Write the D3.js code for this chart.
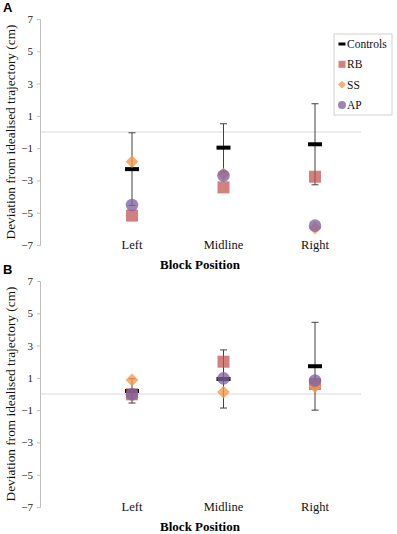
<!DOCTYPE html>
<html>
<head>
<meta charset="utf-8">
<script src="https://cdn.jsdelivr.net/npm/d3@7"></script>
<style>
  body { margin: 0; background: #fff; }
  text { font-family: "Liberation Serif", "Times New Roman", serif; }
</style>
</head>
<body>
<svg width="397" height="534"></svg>
<script>
const categories = ["Left", "Midline", "Right"]
const yTicks = [7, 5, 3, 1, -1, -3, -5, -7]

// Panel A
const controlsA = [-2.3, -0.97, -0.76]
const errA = [2.25, 1.48, 2.51]
const rbA = [-5.18, -3.43, -2.77]
const ssA = [-1.84, -2.6, -5.95]
const apA = [-4.52, -2.7, -5.8]

// Panel B
const controlsB = [0.19, 0.93, 1.72]
const errB = [0.75, 1.8, 2.72]
const rbB = [-0.02, 2.0, 0.62]
const ssB = [0.87, 0.12, 0.45]
const apB = [-0.02, 0.97, 0.83]

const seriesNames = ["Controls", "RB", "SS", "AP"]
const colors = {RB: "rgba(192,80,77,0.72)", SS: "rgba(247,150,70,0.78)", AP: "rgba(128,100,162,0.78)"}

const svg = d3.select("svg")

function drawPanel(top, bottom, label, controls, err, rb, ss, ap, legend) {
  const y = d3.scaleLinear().domain([-7, 7]).range([bottom, top])
  const x = d3.scalePoint().domain(categories).range([132, 315])
  const g = svg.append("g")

  // 0 line
  g.append("line")
    .attr("x1", 40).attr("x2", 361)
    .attr("y1", y(0)).attr("y2", y(0))
    .attr("stroke", "#d9d9d9").attr("stroke-width", 1.2)

  // y axis
  g.append("g")
    .attr("transform", "translate(40,0)")
    .call(d3.axisLeft(y).tickValues(yTicks).tickSize(3).tickPadding(4).tickFormat(d3.format("d")))
    .call(g => g.select(".domain").attr("stroke", "#bfbfbf"))
    .call(g => g.selectAll(".tick line").attr("stroke", "#bfbfbf"))
    .call(g => g.selectAll(".tick text").attr("font-size", 11).attr("fill", "#222")
      .style("font-family", "Liberation Serif"))

  // category labels
  g.selectAll(".cat").data(categories).join("text")
    .attr("x", d => x(d)).attr("y", bottom + 4)
    .attr("text-anchor", "middle").attr("font-size", 12.5).attr("fill", "#111")
    .text(d => d)

  // axis titles
  g.append("text")
    .attr("x", 200).attr("y", bottom + 24)
    .attr("text-anchor", "middle").attr("font-size", 13).attr("font-weight", "bold")
    .text("Block Position")
  g.append("text")
    .attr("transform", `translate(15,${(top + bottom) / 2}) rotate(-90)`)
    .attr("text-anchor", "middle").attr("font-size", 13.3).attr("fill", "#111")
    .text("Deviation from idealised trajectory (cm)")

  g.append("text")
    .attr("x", 3).attr("y", top - 7)
    .attr("font-size", 13).attr("font-weight", "bold")
    .style("font-family", "Liberation Sans, Arial, sans-serif")
    .text(label)

  // error bars
  const eb = g.append("g").attr("stroke", "#404040").attr("stroke-width", 1)
  categories.forEach((c, i) => {
    const lo = y(controls[i] - err[i]), hi = y(controls[i] + err[i])
    eb.append("line").attr("x1", x(c)).attr("x2", x(c)).attr("y1", lo).attr("y2", hi)
    eb.append("line").attr("x1", x(c) - 3.5).attr("x2", x(c) + 3.5).attr("y1", lo).attr("y2", lo)
    eb.append("line").attr("x1", x(c) - 3.5).attr("x2", x(c) + 3.5).attr("y1", hi).attr("y2", hi)
  })

  // controls dash
  g.selectAll(".ctl").data(controls).join("rect")
    .attr("x", (d, i) => x(categories[i]) - 7).attr("y", d => y(d) - 2)
    .attr("width", 14).attr("height", 4).attr("fill", "#000")

  g.selectAll(".rb").data(rb).join("rect")
    .attr("x", (d, i) => x(categories[i]) - 6).attr("y", d => y(d) - 6)
    .attr("width", 12).attr("height", 12).attr("fill", colors.RB)

  g.selectAll(".ss").data(ss).join("path")
    .attr("transform", (d, i) => `translate(${x(categories[i])},${y(d)}) rotate(45)`)
    .attr("d", "M-4.5,-4.5H4.5V4.5H-4.5Z").attr("fill", colors.SS)

  g.selectAll(".ap").data(ap).join("circle")
    .attr("cx", (d, i) => x(categories[i])).attr("cy", d => y(d))
    .attr("r", 6.3).attr("fill", colors.AP)

  if (legend) {
    const lg = g.append("g").attr("transform", "translate(334,34)")
    lg.append("rect").attr("width", 58).attr("height", 81)
      .attr("fill", "#fff").attr("stroke", "#d0d0d0")
    seriesNames.forEach((s, i) => {
      const cy = 10 + i * 20.3
      const row = lg.append("g").attr("transform", `translate(8,${cy})`)
      if (s === "Controls") row.append("rect").attr("x", -3.5).attr("y", -1.5).attr("width", 7).attr("height", 3).attr("fill", "#000")
      if (s === "RB") row.append("rect").attr("x", -3.5).attr("y", -3.5).attr("width", 7).attr("height", 7).attr("fill", colors.RB)
      if (s === "SS") row.append("path").attr("transform", "rotate(45)").attr("d", "M-2.8,-2.8H2.8V2.8H-2.8Z").attr("fill", colors.SS)
      if (s === "AP") row.append("circle").attr("r", 4).attr("fill", colors.AP)
      row.append("text").attr("x", 5).attr("y", 4).attr("font-size", 11.5).attr("fill", "#111").text(s)
    })
  }
}

drawPanel(19, 245, "A", controlsA, errA, rbA, ssA, apA, true)
drawPanel(281, 507, "B", controlsB, errB, rbB, ssB, apB, false)
</script>
</body>
</html>
